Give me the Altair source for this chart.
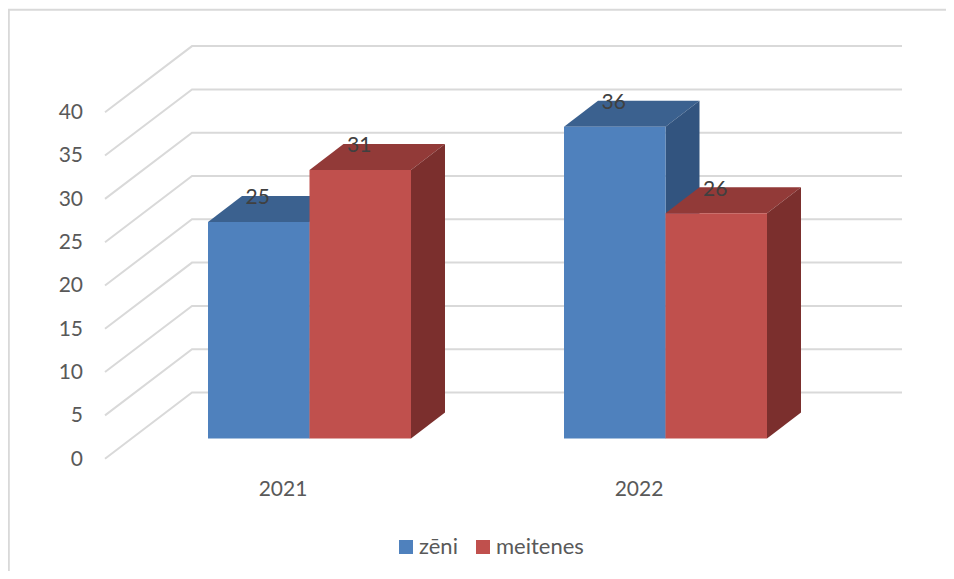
import altair as alt
import pandas as pd

years = ["2021", "2022"]
series = ["zēni", "meitenes"]
values = {"zēni": [25, 36], "meitenes": [31, 26]}
ticks = [0, 5, 10, 15, 20, 25, 30, 35, 40]

front_colors = {"zēni": "#4F81BD", "meitenes": "#C0504D"}
top_colors = {"zēni": "#3B618F", "meitenes": "#923A38"}
side_colors = {"zēni": "#32547F", "meitenes": "#7B2F2D"}

FONT = "Lato"
W, H = 938, 563
PX_PER_UNIT = 8.66
BASE_PAGE_Y = 438.5
XDOM = [8, 8 + W]
V_TOP = (BASE_PAGE_Y - 8) / PX_PER_UNIT
V_BOTTOM = (BASE_PAGE_Y - (8 + H)) / PX_PER_UNIT
xs = alt.Scale(domain=XDOM, range=[0, W], nice=False, zero=False)
ys = alt.Scale(domain=[V_BOTTOM, V_TOP], range=[H, 0], nice=False, zero=False)


def X(f="x"):
    return alt.X(f"{f}:Q", scale=xs, axis=None, title=None)


def Y(f="y"):
    return alt.Y(f"{f}:Q", scale=ys, axis=None, title=None)


# layout of the pseudo-3D projection
G0, GAP, BW = 309.5, 356, 101.5
DX, DV = 34, 3.0
WALL_L, WALL_C, WALL_R = 105, 192, 902
WALL_FRONT, WALL_BACK = -2.33, 5.31

layers = []

# walls
grid = []
for t in ticks:
    grid += [
        {"t": t, "x": WALL_L, "y": t + WALL_FRONT, "o": 0},
        {"t": t, "x": WALL_C, "y": t + WALL_BACK, "o": 1},
        {"t": t, "x": WALL_R, "y": t + WALL_BACK, "o": 2},
    ]
layers.append(
    alt.Chart(pd.DataFrame(grid))
    .mark_line(stroke="#D9D9D9", strokeWidth=2)
    .encode(x=X(), y=Y(), detail="t:N", order="o:Q")
)

# outer frame
frame = pd.DataFrame([
    {"x": 8 + W, "y": 49.5, "o": 0},
    {"x": 8.8, "y": 49.5, "o": 1},
    {"x": 8.8, "y": V_BOTTOM, "o": 2},
])
layers.append(
    alt.Chart(frame)
    .mark_line(stroke="#D9D9D9", strokeWidth=2)
    .encode(x=X(), y=Y(), order="o:Q")
)

color_scale = alt.Scale(domain=series, range=[front_colors[s] for s in series])
legend = alt.Legend(
    orient="none", legendX=387, legendY=528, direction="horizontal", title=None,
    symbolType="square", symbolSize=196, symbolStrokeWidth=0, labelFont=FONT,
    labelFontSize=22, labelColor="#595959", labelOffset=2, columnPadding=14,
    symbolOpacity=1,
)

labels = []
for si, s in enumerate(series):
    for yi, year in enumerate(years):
        v = values[s][yi]
        x0 = G0 + yi * GAP + (si - 1) * BW
        x1 = x0 + BW
        # top face
        top = pd.DataFrame([
            {"y": v, "x": x0, "x2": x1},
            {"y": v + DV, "x": x0 + DX, "x2": x1 + DX},
        ])
        layers.append(
            alt.Chart(top)
            .mark_area(orient="horizontal", color=top_colors[s])
            .encode(y=Y(), x=X(), x2="x2:Q")
        )
        # side face
        side = pd.DataFrame([
            {"x": x1, "y": v, "y2": 0},
            {"x": x1 + DX, "y": v + DV, "y2": DV},
        ])
        layers.append(
            alt.Chart(side)
            .mark_area(orient="vertical", color=side_colors[s])
            .encode(x=X(), y=Y(), y2="y2:Q")
        )
        # front face
        front = pd.DataFrame([{"x": x0, "x2": x1, "y": v, "y2": 0, "series": s}])
        layers.append(
            alt.Chart(front)
            .mark_rect()
            .encode(
                x=X(), x2="x2:Q", y=Y(), y2="y2:Q",
                color=alt.Color("series:N", scale=color_scale, legend=legend),
            )
        )
        labels.append({"x": (x0 + x1) / 2 - 1, "y": v + DV - 0.25, "text": str(v)})

text_base = dict(font=FONT, fontSize=21, baseline="middle")

layers.append(
    alt.Chart(pd.DataFrame(labels))
    .mark_text(color="#404040", align="center", **text_base)
    .encode(x=X(), y=Y(), text="text:N")
)
layers.append(
    alt.Chart(pd.DataFrame({"y": [t + WALL_FRONT - 0.1 for t in ticks], "text": [str(t) for t in ticks], "x": [83] * len(ticks)}))
    .mark_text(color="#595959", align="right", **text_base)
    .encode(x=X(), y=Y(), text="text:N")
)
layers.append(
    alt.Chart(pd.DataFrame({"x": [G0 + i * GAP - 26.5 for i in range(2)], "y": [-5.9] * 2, "text": years}))
    .mark_text(color="#595959", align="center", **text_base)
    .encode(x=X(), y=Y(), text="text:N")
)

chart = (
    alt.layer(*layers)
    .properties(width=W, height=H, padding=0, background="#FFFFFF",
                autosize=alt.AutoSizeParams(type="none"))
    .configure_view(stroke=None)
)
chart.save("out.html", embed_options={"renderer": "svg", "actions": False})
